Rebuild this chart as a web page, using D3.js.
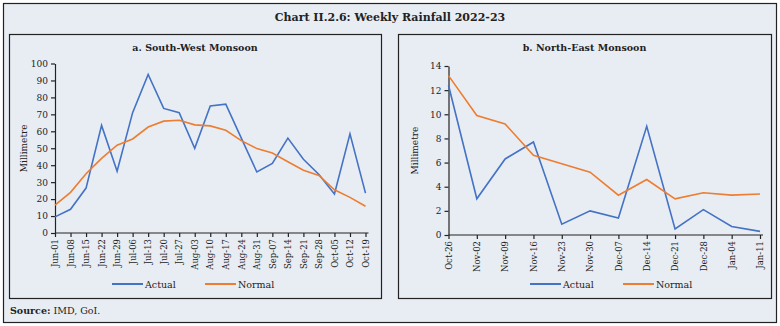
<!DOCTYPE html>
<html>
<head>
<meta charset="utf-8">
<script src="https://cdn.jsdelivr.net/npm/d3@7"></script>
<style>
  body { margin: 0; background: #fff; }
  svg { display: block; }
  text { font-family: "DejaVu Serif", "Liberation Serif", serif; fill: #222; }
</style>
</head>
<body>
<svg id="chart"></svg>
<script>
// data
const swWeeks = ["Jun-01","Jun-08","Jun-15","Jun-22","Jun-29","Jul-06","Jul-13","Jul-20","Jul-27","Aug-03",
  "Aug-10","Aug-17","Aug-24","Aug-31","Sep-07","Sep-14","Sep-21","Sep-28","Oct-05","Oct-12","Oct-19"];
const swActual = [9.5, 14, 26.5, 63.5, 36.5, 71, 93.5, 73.5, 71, 50, 75, 76, 56, 36, 41, 56, 43.5, 34.5, 23, 58.5, 23.5];
const swNormal = [16.5, 24, 35, 44, 51.8, 55.5, 62.5, 66, 66.5, 63.8, 63.2, 60.6, 54.5, 49.8, 47.2, 42, 37, 34, 25.5, 21, 15.8];
const swTicks = [0,10,20,30,40,50,60,70,80,90,100];

const neWeeks = ["Oct-26","Nov-02","Nov-09","Nov-16","Nov-23","Nov-30","Dec-07","Dec-14","Dec-21","Dec-28","Jan-04","Jan-11"];
const neActual = [12.4, 3, 6.3, 7.7, 0.9, 2, 1.4, 9, 0.5, 2.1, 0.7, 0.3];
const neNormal = [13.2, 9.9, 9.2, 6.6, 5.9, 5.2, 3.3, 4.6, 3, 3.5, 3.3, 3.4];
const neTicks = [0,2,4,6,8,10,12,14];

const seriesNames = ["Actual", "Normal"];
const colors = ["#4472c4", "#ed7d31"];

const W = 780, H = 326;
const svg = d3.select("#chart").attr("width", W).attr("height", H);

svg.append("rect").attr("x", 3.5).attr("y", 3.5).attr("width", 773).attr("height", 319)
  .attr("fill", "#e8edf4").attr("stroke", "#222").attr("stroke-width", 1.2);

svg.append("text").attr("x", 390).attr("y", 21).attr("text-anchor", "middle")
  .attr("font-size", "11px").attr("font-weight", "bold")
  .text("Chart II.2.6: Weekly Rainfall 2022-23");

const src = svg.append("text").attr("x", 10).attr("y", 314).attr("font-size", "9.5px");
src.append("tspan").attr("font-weight", "bold").text("Source:");
src.append("tspan").text(" IMD, GoI.");

function drawPanel(cfg) {
  const g = svg.append("g");
  g.append("rect").attr("x", cfg.box[0] + 0.5).attr("y", cfg.box[1] + 0.5)
    .attr("width", cfg.box[2]).attr("height", cfg.box[3])
    .attr("fill", "none").attr("stroke", "#222").attr("stroke-width", 1.2);

  g.append("text").attr("x", cfg.box[0] + cfg.box[2] / 2).attr("y", 51)
    .attr("text-anchor", "middle").attr("font-size", "9.5px").attr("font-weight", "bold")
    .text(cfg.title);

  const x = d3.scalePoint().domain(cfg.weeks).range([cfg.left, cfg.right]);
  const y = d3.scaleLinear().domain([0, cfg.ymax]).range([cfg.bottom, cfg.top]);

  const yaxis = d3.axisLeft(y).tickValues(cfg.ticks).tickSize(4).tickSizeOuter(0);
  const ya = g.append("g").attr("transform", `translate(${cfg.left},0)`).call(yaxis);
  ya.selectAll("text").attr("font-size", "9px").attr("font-family", "DejaVu Serif").attr("fill", "#222");

  const xaxis = d3.axisBottom(x).tickSize(4).tickSizeOuter(0);
  const xa = g.append("g").attr("transform", `translate(0,${cfg.bottom})`).call(xaxis);
  xa.select(".domain").attr("d", `M${cfg.left},0H${cfg.right + 3}`);
  xa.selectAll("text")
    .attr("font-size", "8.5px").attr("font-family", "DejaVu Serif").attr("fill", "#222")
    .attr("text-anchor", "end").attr("dy", "0.32em")
    .attr("transform", "translate(0,4) rotate(-90)").attr("x", -2).attr("y", 0);
  g.selectAll(".domain, .tick line").attr("stroke", "#222").attr("stroke-width", 1.2);

  g.append("text").attr("transform", `translate(${cfg.labelX},${(cfg.top + cfg.bottom) / 2}) rotate(-90)`)
    .attr("text-anchor", "middle").attr("font-size", "9px").text("Millimetre");

  const line = d3.line().x((d, i) => x(cfg.weeks[i])).y(d => y(d));
  [cfg.actual, cfg.normal].forEach((s, i) => {
    g.append("path").datum(s).attr("d", line).attr("fill", "none")
      .attr("stroke", colors[i]).attr("stroke-width", 1.6);
  });

  // legend
  seriesNames.forEach((n, i) => {
    const lx = cfg.legendX + i * 93;
    g.append("line").attr("x1", lx).attr("x2", lx + 31).attr("y1", 284).attr("y2", 284)
      .attr("stroke", colors[i]).attr("stroke-width", 2);
    g.append("text").attr("x", lx + 33).attr("y", 287.5).attr("font-size", "9.5px").text(n);
  });
}

drawPanel({
  box: [9, 34, 372, 264], title: "a. South-West Monsoon",
  weeks: swWeeks, actual: swActual, normal: swNormal, ticks: swTicks, ymax: 100,
  left: 55, right: 365.5, top: 63.5, bottom: 233, labelX: 27, legendX: 112
});

drawPanel({
  box: [398, 34, 373, 264], title: "b. North-East Monsoon",
  weeks: neWeeks, actual: neActual, normal: neNormal, ticks: neTicks, ymax: 14,
  left: 448.5, right: 760, top: 66, bottom: 235, labelX: 418, legendX: 530
});
</script>
</body>
</html>
